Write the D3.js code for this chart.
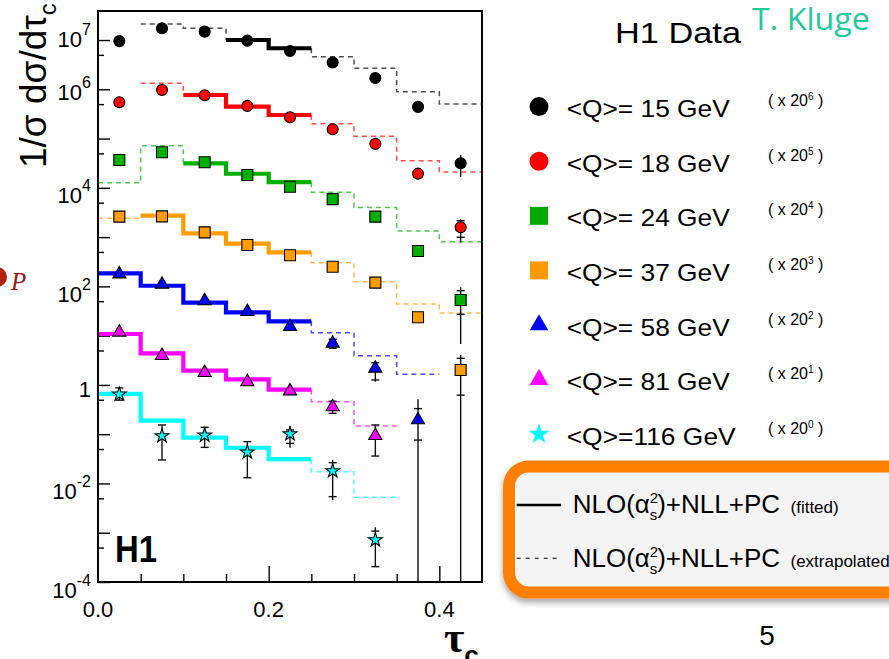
<!DOCTYPE html>
<html>
<head>
<meta charset="utf-8">
<script src="https://cdn.jsdelivr.net/npm/d3@7"></script>
<style>
  html, body { margin: 0; padding: 0; background: #fff; }
  svg { display: block; }
  text { font-family: "Liberation Sans", Arial, Helvetica, sans-serif; }
</style>
</head>
<body>
<svg id="chart" width="889" height="659"></svg>
<script>
// ---- data ---------------------------------------------------------------
const binEdges = [0, 0.05, 0.10, 0.15, 0.20, 0.25, 0.30, 0.35, 0.40, 0.45];
const meanQ = [15, 18, 24, 37, 58, 81, 116];
const scalePower = [6, 5, 4, 3, 2, 1, 0];

// measured 1/sigma dsigma/dtau_c (already multiplied by 20^n)
const data15  = [9.5e6, 1.73e7, 1.48e7, 9.7e6, 6.0e6, 3.5e6, 1.7e6, 4.4e5, 3.15e4];
const data18  = [5.45e5, 9.7e5, 7.55e5, 4.6e5, 2.7e5, 1.54e5, 7.8e4, 1.94e4, 1.58e3];
const data24  = [3.67e4, 5.26e4, 3.3e4, 1.82e4, 1.05e4, 5.9e3, 2.6e3, 523, 53];
const data37  = [2.6e3, 2.64e3, 1.25e3, 692, 427, 251, 119, 23.6, 2.01];
const data58  = [178, 110, 50.5, 30.6, 15.2, 7.0, 2.17, 0.194, null];
const data81  = [11.7, 3.92, 1.77, 1.15, 0.75, 0.356, 0.093, null, null];
const data116 = [0.646, 0.092, 0.095, 0.043, 0.101, 0.0179, 7.1e-4, null, null];

// NLO(as^2)+NLL+PC prediction per bin
const theory15  = [null, 2.11e7, 1.73e7, 1.0e7, 6.8e6, 4.59e6, 2.67e6, 8.9e5, 5.0e5];
const theory18  = [null, 1.32e6, 7.66e5, 4.43e5, 3.01e5, 2.0e5, 1.11e5, 3.56e4, 2.1e4];
const theory24  = [1.27e4, 7.16e4, 3.15e4, 1.93e4, 1.3e4, 8.12e3, 3.99e3, 1.33e3, 807];
const theory37  = [2.41e3, 2.72e3, 1.19e3, 735, 492, 303, 124, 43.9, 28.8];
const theory58  = [184, 103, 46.7, 29.8, 19.5, 11.5, 3.92, 1.64, null];
const theory81  = [10.8, 4.38, 1.95, 1.30, 0.80, 0.456, 0.147, null, null];
const theory116 = [0.66, 0.188, 0.085, 0.053, 0.0313, 0.0173, 0.00524, null, null];

// fitted tau_c range per series (outside it the prediction is extrapolated)
const fitFrom = [0.15, 0.10, 0.10, 0.05, 0, 0, 0];
const fitTo = 0.25;

// error bars: [bin, total low, total high, stat low, stat high]; null low = below axis
const errors15  = [[8, 1.68e4, 4.64e4, null, null]];
const errors18  = [[8, 771, 2.3e3, 991, 2.15e3]];
const errors24  = [[8, 6.77, 95.8, 27.1, 81.7]];
const errors37  = [[8, null, 4.05, 0.62, 3.47]];
const errors58  = [[5, 5.53, 8.43, 5.53, 8.43], [6, 1.16, 2.96, 1.26, 2.83], [7, null, 0.51, 0.076, 0.33]];
const errors81  = [[5, 0.265, 0.466, 0.265, 0.466], [6, 0.036, 0.154, 0.036, 0.154]];
const errors116 = [[0, 0.49, 0.87, 0.49, 0.87], [1, 0.030, 0.154, 0.030, 0.154], [2, 0.054, 0.138, 0.054, 0.138],
                   [3, 0.0131, 0.0705, 0.0131, 0.0705], [4, 0.053, 0.147, 0.065, 0.122],
                   [5, 0.0046, 0.030, 0.0054, 0.0264], [6, 2.05e-4, 1.29e-3, 2.05e-4, 1.08e-3]];

// axis labels
const xTickLabels = [0.0, 0.2, 0.4];
const yLabelValues = [1e7, 1e6, 1e4, 1e2, 1, 1e-2, 1e-4];
const yLabelExps = ["7", "6", "4", "2", "", "-2", "-4"];

// ---- styles ------------------------------------------------------------
const seriesColors = ["#000000", "#ff0000", "#00b000", "#ff9c00", "#0000ff", "#ff00ff", "#00ffff"];
const legendColors = ["#000000", "#ff0000", "#00aa00", "#ff9900", "#0000ff", "#ff00ff", "#00ffff"];
const markerShapes = [d3.symbolCircle, d3.symbolCircle, d3.symbolSquare, d3.symbolSquare,
                      d3.symbolTriangle, d3.symbolTriangle, d3.symbolStar];
const markerSizes = [95, 95, 121, 121, 75, 75, 60];
const legendSizes = [283, 283, 324, 324, 150, 150, 135];
const yLabelBaseline = [7, 10.5, 15.6, 15.7, 12, 15.5, 16];

const series = meanQ.map((q, i) => ({
  q, power: scalePower[i], color: seriesColors[i],
  data: [data15, data18, data24, data37, data58, data81, data116][i],
  theory: [theory15, theory18, theory24, theory37, theory58, theory81, theory116][i],
  errors: [errors15, errors18, errors24, errors37, errors58, errors81, errors116][i],
  fitFrom: fitFrom[i], shape: markerShapes[i], size: markerSizes[i], legendSize: legendSizes[i]
}));

// ---- scales ------------------------------------------------------------
const svg = d3.select("#chart");
const plot = { left: 98, right: 482, top: 11, bottom: 582 };
const x = d3.scaleLinear().domain([0, 0.45]).range([plot.left, plot.right]);
const y = d3.scaleLog().domain([1e-4, Math.pow(10, 7.589)]).range([plot.bottom, plot.top]);

const defs = svg.append("defs");
defs.append("clipPath").attr("id", "plotClip").append("rect")
  .attr("x", plot.left).attr("y", plot.top)
  .attr("width", plot.right - plot.left).attr("height", plot.bottom - plot.top);
const shadow = defs.append("filter").attr("id", "boxShadow")
  .attr("x", "-10%").attr("y", "-10%").attr("width", "130%").attr("height", "140%");
shadow.append("feDropShadow").attr("dx", 0).attr("dy", 4).attr("stdDeviation", 3)
  .attr("flood-color", "#000").attr("flood-opacity", 0.35);

// ---- axes ---------------------------------------------------------------
const decades = d3.range(-4, 8).map(e => Math.pow(10, e));
const halves = d3.range(-4, 8).map(e => 5 * Math.pow(10, e)).filter(v => v < y.domain()[1]);

function styleAxis(g) {
  g.select(".domain").remove();
  g.selectAll(".tick line").attr("stroke", "#000").attr("stroke-width", 1.4);
}
svg.append("g").attr("transform", `translate(${plot.left},0)`)
  .call(d3.axisLeft(y).tickValues(decades).tickSize(-12).tickFormat(""))
  .call(styleAxis);
svg.append("g").attr("transform", `translate(${plot.left},0)`)
  .call(d3.axisLeft(y).tickValues(halves).tickSize(-6).tickFormat(""))
  .call(styleAxis);
svg.append("g").attr("transform", `translate(0,${plot.bottom})`)
  .call(d3.axisBottom(x).tickValues([0.2, 0.4]).tickSize(-16).tickFormat(""))
  .call(styleAxis);
svg.append("g").attr("transform", `translate(0,${plot.bottom})`)
  .call(d3.axisBottom(x).tickValues([0.05, 0.1, 0.15, 0.25, 0.3, 0.35]).tickSize(-8).tickFormat(""))
  .call(styleAxis);

// y labels: 10^n
yLabelValues.forEach((v, i) => {
  const t = svg.append("text")
    .attr("x", 91).attr("y", y(v) + yLabelBaseline[i])
    .attr("text-anchor", "end").attr("font-size", 22).attr("fill", "#000");
  if (yLabelExps[i] === "") {
    t.text("1");
  } else {
    t.append("tspan").text("10");
    t.append("tspan").attr("font-size", 16).attr("dy", -12).text(yLabelExps[i]);
  }
});

// x labels
xTickLabels.forEach(v => {
  svg.append("text").attr("x", x(v)).attr("y", 616.7)
    .attr("text-anchor", "middle").attr("font-size", 22).text(d3.format(".1f")(v));
});

// axis titles
const yTitle = svg.append("text")
  .attr("transform", "translate(46,168) rotate(-90)")
  .attr("font-size", 37).attr("fill", "#000");
yTitle.append("tspan").text("1/σ dσ/dτ");
yTitle.append("tspan").attr("font-size", 24).attr("dy", 10).text("c");

const xTitle = svg.append("text").attr("x", 444).attr("y", 652)
  .attr("font-size", 44).attr("font-weight", "bold")
  .style("font-family", "'Liberation Serif', 'Times New Roman', serif");
xTitle.append("tspan").text("τ");
xTitle.append("tspan").attr("font-size", 26).attr("dy", 12)
  .style("font-family", "'Liberation Sans', Arial, sans-serif").text("c");

// ---- prediction step lines ---------------------------------------------
const stepLine = d3.line().x(d => x(d[0])).y(d => y(d[1])).curve(d3.curveStepAfter);
const linesG = svg.append("g").attr("clip-path", "url(#plotClip)");
const eps = 1e-9;

series.forEach(s => {
  const idx = s.theory.map((v, i) => v == null ? null : i).filter(i => i != null);
  const fitted = idx.filter(i => binEdges[i] >= s.fitFrom - eps && binEdges[i + 1] <= fitTo + eps);
  const before = idx.filter(i => binEdges[i + 1] <= s.fitFrom + eps);
  const after = idx.filter(i => binEdges[i] >= fitTo - eps);
  const f0 = fitted[0], f1 = fitted[fitted.length - 1];
  const dashColor = d3.interpolateRgb(s.color, "#ffffff")(0.3);

  if (before.length) {
    const pts = before.map(i => [binEdges[i], s.theory[i]]);
    pts.push([binEdges[f0], s.theory[f0]]);
    linesG.append("path").attr("d", stepLine(pts)).attr("fill", "none")
      .attr("stroke", dashColor).attr("stroke-width", 1.5).attr("stroke-dasharray", "5,4");
  }
  if (after.length) {
    const pts = [[binEdges[f1 + 1], s.theory[f1]]];
    after.forEach(i => pts.push([binEdges[i], s.theory[i]]));
    const last = after[after.length - 1];
    pts.push([binEdges[last + 1], s.theory[last]]);
    linesG.append("path").attr("d", stepLine(pts)).attr("fill", "none")
      .attr("stroke", dashColor).attr("stroke-width", 1.5).attr("stroke-dasharray", "5,4");
  }
  const solid = fitted.map(i => [binEdges[i], s.theory[i]]);
  solid.push([binEdges[f1 + 1], s.theory[f1]]);
  linesG.append("path").attr("d", stepLine(solid)).attr("fill", "none")
    .attr("stroke", s.color).attr("stroke-width", 4.2);
});

// ---- error bars ---------------------------------------------------------
const binCenter = i => (binEdges[i] + binEdges[i + 1]) / 2;
const errG = svg.append("g").attr("clip-path", "url(#plotClip)")
  .attr("stroke", "#111").attr("stroke-width", 1.4);
series.forEach(s => {
  s.errors.forEach(([bin, lo, hi, slo, shi]) => {
    const cx = x(binCenter(bin));
    const yLo = lo == null ? plot.bottom + 2 : y(lo);
    errG.append("line").attr("x1", cx).attr("x2", cx).attr("y1", yLo).attr("y2", y(hi));
    [slo, shi].filter(v => v != null).forEach(v => {
      errG.append("line").attr("x1", cx - 4).attr("x2", cx + 4).attr("y1", y(v)).attr("y2", y(v));
    });
  });
});

// ---- data markers -------------------------------------------------------
const markG = svg.append("g").attr("clip-path", "url(#plotClip)");
series.forEach(s => {
  s.data.forEach((v, i) => {
    if (v == null) return;
    markG.append("path")
      .attr("d", d3.symbol().type(s.shape).size(s.size)())
      .attr("transform", `translate(${x(binCenter(i))},${y(v)})`)
      .attr("fill", s.color)
      .attr("stroke", "#000").attr("stroke-width", 1.1);
  });
});

// frame
svg.append("rect").attr("x", plot.left).attr("y", plot.top)
  .attr("width", plot.right - plot.left).attr("height", plot.bottom - plot.top)
  .attr("fill", "none").attr("stroke", "#000").attr("stroke-width", 2);

svg.append("text").attr("x", 115).attr("y", 561.5)
  .attr("font-size", 36).attr("font-weight", "bold")
  .attr("textLength", 42).attr("lengthAdjust", "spacingAndGlyphs").text("H1");

// ---- legend -------------------------------------------------------------
svg.append("text").attr("x", 615).attr("y", 42.7).attr("font-size", 30)
  .attr("textLength", 126).attr("lengthAdjust", "spacingAndGlyphs").text("H1 Data");
svg.append("text").attr("x", 752).attr("y", 30).attr("font-size", 31)
  .attr("fill", "#22c99a").style("font-family", "'Open Sans', sans-serif")
  .attr("textLength", 118).attr("lengthAdjust", "spacingAndGlyphs").text("T. Kluge");

series.forEach((s, i) => {
  const ly = 106.6 + i * 54.6;
  svg.append("path")
    .attr("d", d3.symbol().type(s.shape).size(s.legendSize)())
    .attr("transform", `translate(539,${ly})`)
    .attr("fill", legendColors[i]);
  const label = "<Q>=" + String(s.q).padStart(3, " ") + " GeV";
  svg.append("text").attr("x", 566.7).attr("y", ly + 10.6)
    .attr("font-size", 24).attr("xml:space", "preserve")
    .attr("textLength", s.q >= 100 ? 169 : 163).attr("lengthAdjust", "spacingAndGlyphs")
    .text(label);
  const sc = svg.append("text").attr("x", 768).attr("y", ly - 0.5).attr("font-size", 16)
    .attr("xml:space", "preserve");
  sc.append("tspan").text("( x 20");
  sc.append("tspan").attr("font-size", 10).attr("dy", -6).text(String(s.power));
  sc.append("tspan").attr("dy", 6).text(" )");
});

// prediction key box
svg.append("rect").attr("x", 509).attr("y", 466.5).attr("width", 420).attr("height", 126)
  .attr("rx", 20).attr("ry", 20)
  .attr("fill", "#f4f4f4").attr("stroke", "#ff7f00").attr("stroke-width", 12)
  .attr("filter", "url(#boxShadow)");

svg.append("line").attr("x1", 516.7).attr("x2", 561).attr("y1", 505).attr("y2", 505)
  .attr("stroke", "#000").attr("stroke-width", 2.4);
svg.append("line").attr("x1", 516.7).attr("x2", 557).attr("y1", 558.3).attr("y2", 558.3)
  .attr("stroke", "#000").attr("stroke-width", 1.1).attr("stroke-dasharray", "4,5");

function keyLabel(yBase, note) {
  const t = svg.append("text").attr("x", 572.7).attr("y", yBase).attr("font-size", 26)
    .attr("xml:space", "preserve");
  t.append("tspan").text("NLO(α");
  t.append("tspan").attr("font-size", 15).attr("dy", -10).text("2");
  t.append("tspan").attr("font-size", 15).attr("dx", -8.5).attr("dy", 17).text("s");
  t.append("tspan").attr("dy", -7).text(")+NLL+PC");
  svg.append("text").attr("x", 790.5).attr("y", yBase).attr("font-size", 17).text(note);
}
keyLabel(513.3, "(fitted)");
keyLabel(566.7, "(extrapolated)");

// page number
svg.append("text").attr("x", 767).attr("y", 645).attr("text-anchor", "middle")
  .attr("font-size", 28).text("5");

// marker fragment at the left edge
svg.append("circle").attr("cx", -3).attr("cy", 277).attr("r", 10).attr("fill", "#b3220f");
svg.append("text").attr("x", 11).attr("y", 290).attr("font-size", 25)
  .attr("font-style", "italic").attr("fill", "#9c1a1a")
  .style("font-family", "'Liberation Serif', 'Times New Roman', serif").text("P");
</script>
</body>
</html>
